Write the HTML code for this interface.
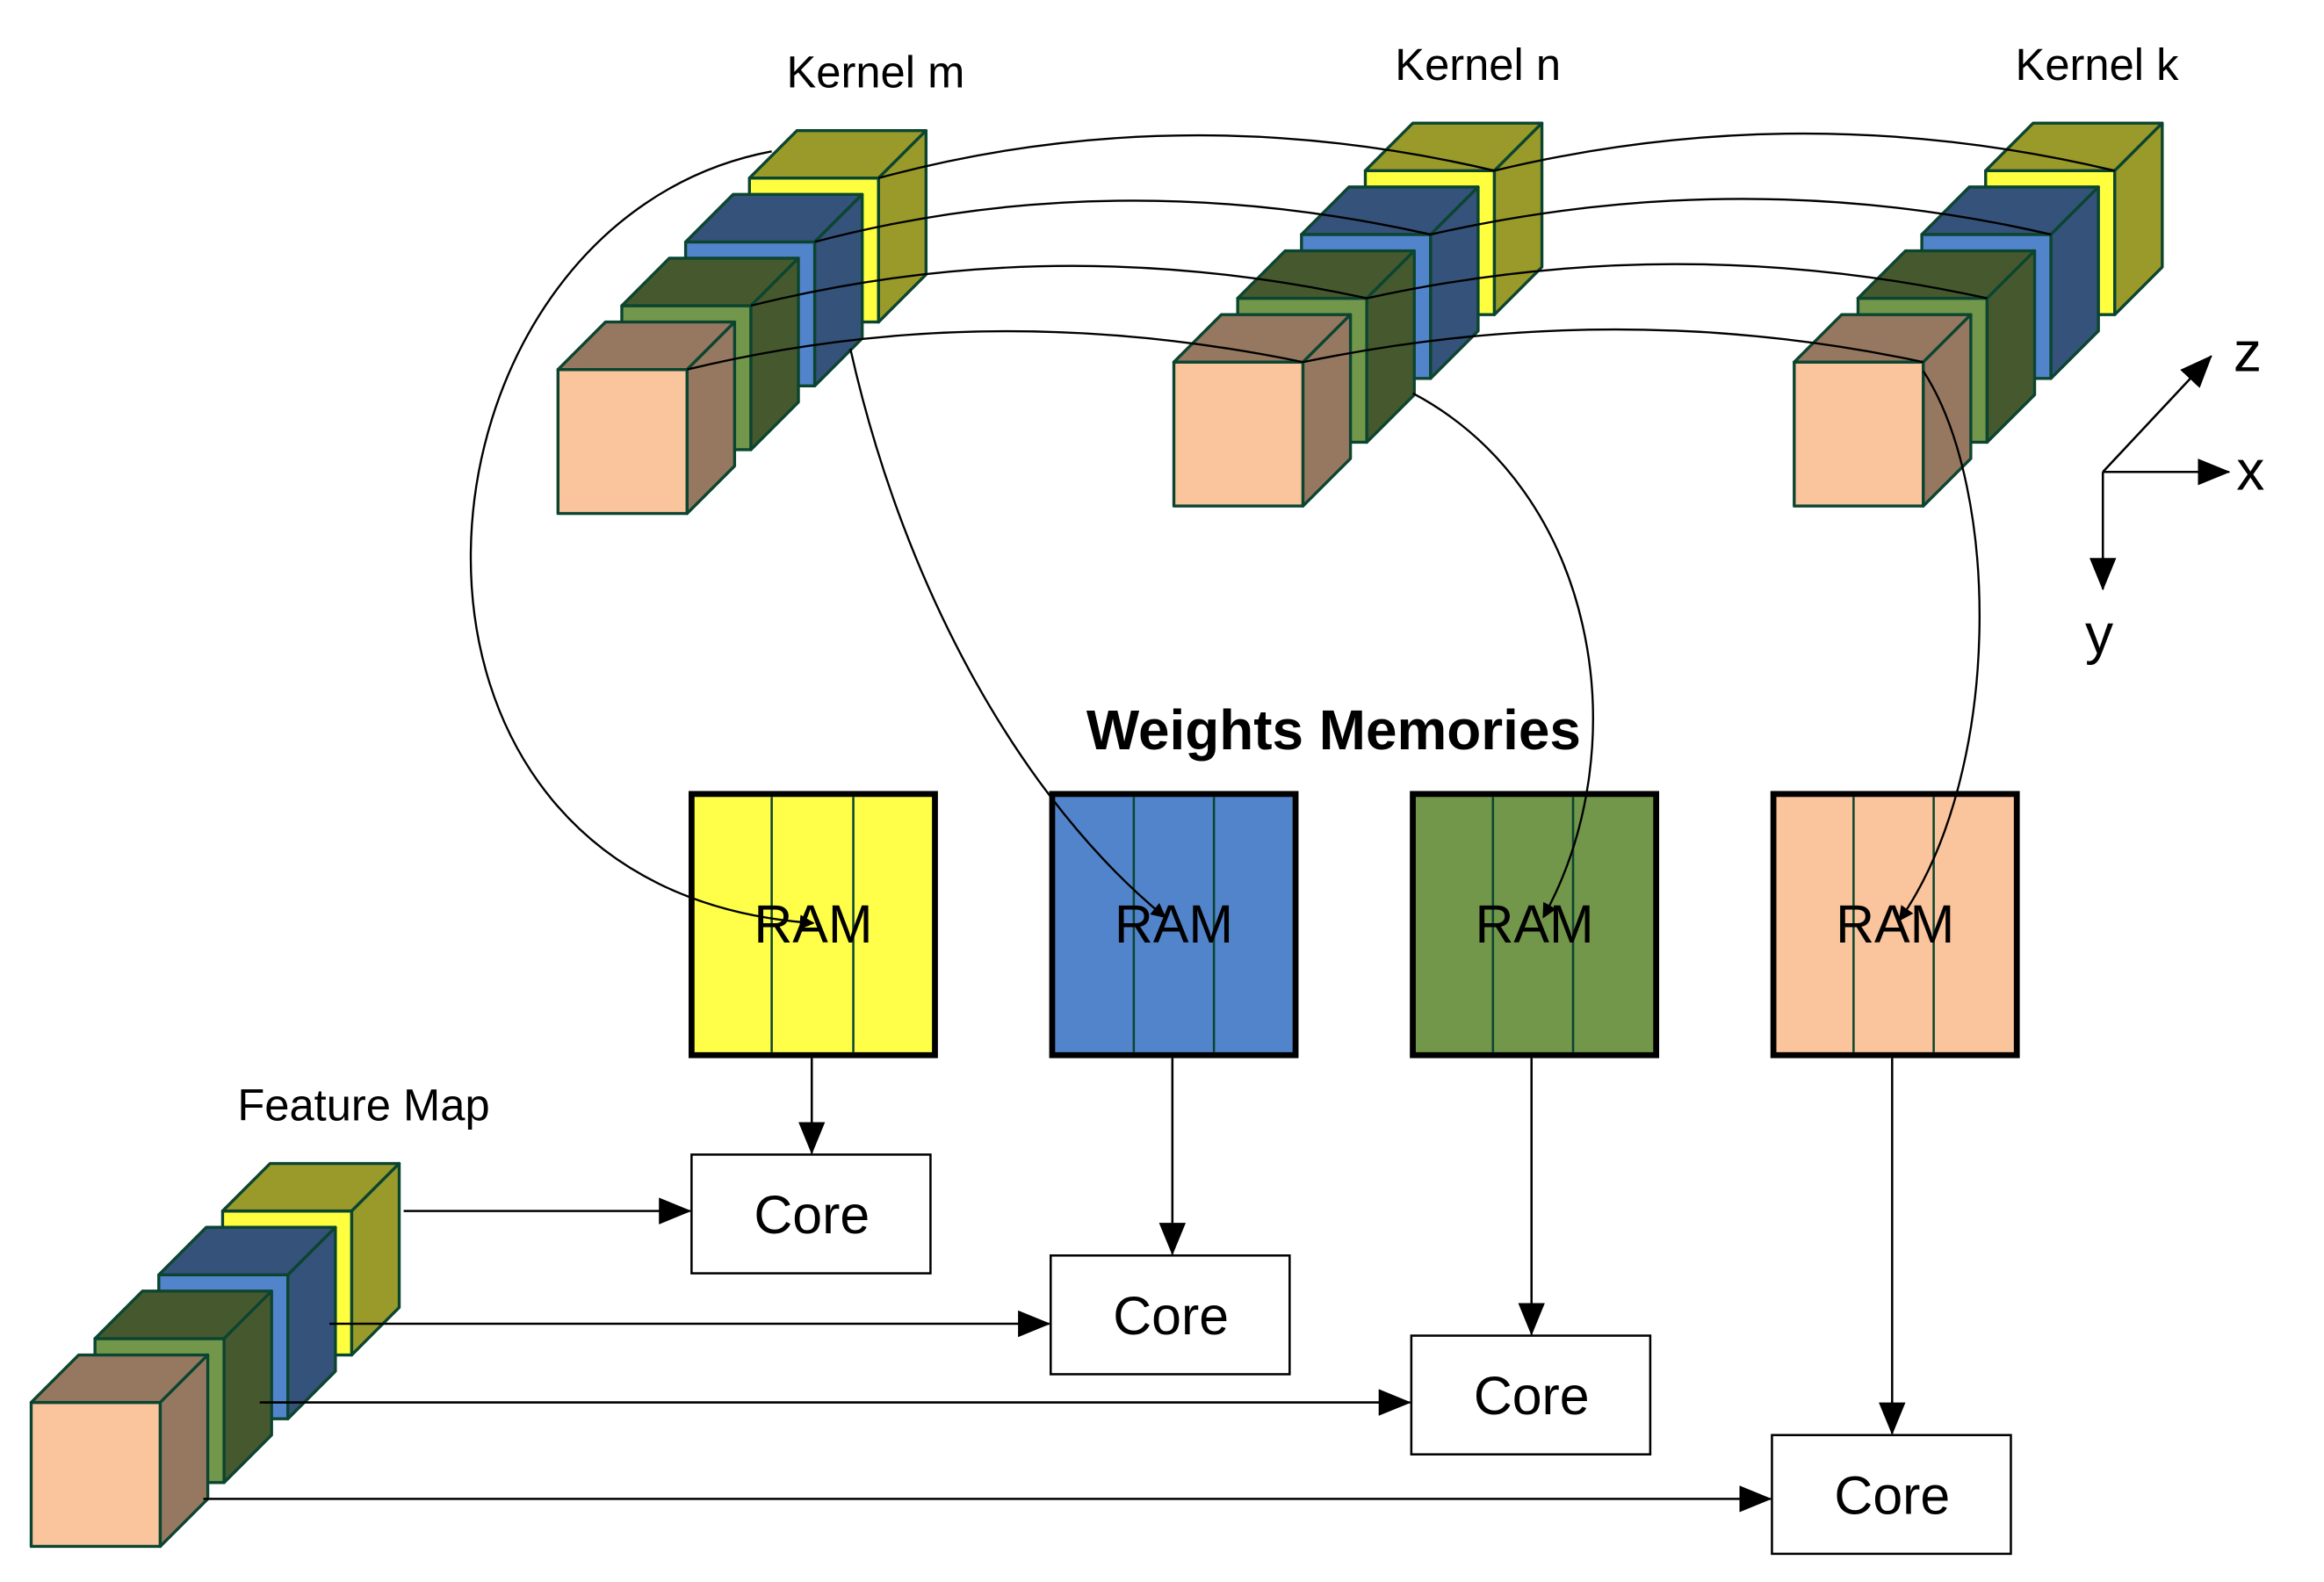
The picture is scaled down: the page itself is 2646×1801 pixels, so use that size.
<!DOCTYPE html>
<html><head><meta charset="utf-8"><style>html,body{margin:0;padding:0;background:#fff}svg{display:block}</style></head>
<body>
<svg width="2646" height="1801" viewBox="0 0 1566 1066" preserveAspectRatio="none" xmlns="http://www.w3.org/2000/svg" font-family="Liberation Sans, Arial, sans-serif">
<defs>
<marker id="ah" markerWidth="10" markerHeight="10" refX="9" refY="5" orient="auto" markerUnits="userSpaceOnUse" viewBox="0 0 10 10"><path d="M0,0 L10,5 L0,10 z" fill="#000"/></marker>
<marker id="ab" markerWidth="22" markerHeight="18" refX="21" refY="9" orient="auto" markerUnits="userSpaceOnUse"><path d="M0,0 L22,9 L0,18 z" fill="#000"/></marker>
<g id="cy" stroke="#0B4530" stroke-width="2" stroke-linejoin="round"><rect x="0" y="0" width="87" height="97" fill="#FFFF40"/><polygon points="0,0 87,0 119,-32 32,-32" fill="#999A2A"/><polygon points="87,0 119,-32 119,65 87,97" fill="#999A2A"/></g>
<g id="cb" stroke="#0B4530" stroke-width="2" stroke-linejoin="round"><rect x="0" y="0" width="87" height="97" fill="#5284CC"/><polygon points="0,0 87,0 119,-32 32,-32" fill="#34527A"/><polygon points="87,0 119,-32 119,65 87,97" fill="#34527A"/></g>
<g id="cg" stroke="#0B4530" stroke-width="2" stroke-linejoin="round"><rect x="0" y="0" width="87" height="97" fill="#72964A"/><polygon points="0,0 87,0 119,-32 32,-32" fill="#46592E"/><polygon points="87,0 119,-32 119,65 87,97" fill="#46592E"/></g>
<g id="cp" stroke="#0B4530" stroke-width="2" stroke-linejoin="round"><rect x="0" y="0" width="87" height="97" fill="#FAC49C"/><polygon points="0,0 87,0 119,-32 32,-32" fill="#967860"/><polygon points="87,0 119,-32 119,65 87,97" fill="#967860"/></g>
</defs>

<use href="#cy" x="505" y="120"/><use href="#cb" x="462" y="163"/><use href="#cg" x="419" y="206"/><use href="#cp" x="376" y="249"/>
<use href="#cy" x="920" y="115"/><use href="#cb" x="877" y="158"/><use href="#cg" x="834" y="201"/><use href="#cp" x="791" y="244"/>
<use href="#cy" x="1338" y="115"/><use href="#cb" x="1295" y="158"/><use href="#cg" x="1252" y="201"/><use href="#cp" x="1209" y="244"/>
<use href="#cy" x="150" y="816"/><use href="#cb" x="107" y="859"/><use href="#cg" x="64" y="902"/><use href="#cp" x="21" y="945"/>

<text x="530" y="59" font-size="30">Kernel m</text>
<text x="940" y="54" font-size="30">Kernel n</text>
<text x="1358" y="54" font-size="30">Kernel k</text>
<text x="732" y="505" font-size="37.8" font-weight="bold">Weights Memories</text>
<text x="160" y="755" font-size="30">Feature Map</text>

<g stroke="#000" stroke-width="4">
<rect x="466" y="535" width="164" height="176" fill="#FFFF4A"/>
<rect x="709" y="535" width="164" height="176" fill="#5284CC"/>
<rect x="952" y="535" width="164" height="176" fill="#72964A"/>
<rect x="1195" y="535" width="164" height="176" fill="#FAC49C"/>
</g>
<g stroke="#0B4530" stroke-width="1.5">
<line x1="520" y1="537" x2="520" y2="709"/><line x1="575" y1="537" x2="575" y2="709"/>
<line x1="764" y1="537" x2="764" y2="709"/><line x1="818" y1="537" x2="818" y2="709"/>
<line x1="1006" y1="537" x2="1006" y2="709"/><line x1="1060" y1="537" x2="1060" y2="709"/>
<line x1="1249" y1="537" x2="1249" y2="709"/><line x1="1303" y1="537" x2="1303" y2="709"/>
</g>
<g font-size="36" text-anchor="middle">
<text x="548" y="635">RAM</text><text x="791" y="635">RAM</text><text x="1034" y="635">RAM</text><text x="1277" y="635">RAM</text>
</g>

<g fill="none" stroke="#000" stroke-width="1.4">
<path d="M592,120 Q795,65 1007,115 Q1215,65 1425,115"/>
<path d="M549,163 Q750,110 964,158 Q1175,110 1382,158"/>
<path d="M506,206 Q710,155 921,201 Q1130,155 1339,201"/>
<path d="M463,249 Q665,200 878,244 Q1090,200 1296,244"/>
<path d="M520,102 C265,150 225,600 548,622" marker-end="url(#ah)"/>
<path d="M573,235 C610,400 690,540 785,618" marker-end="url(#ah)"/>
<path d="M952,265 C1075,330 1105,500 1040,618" marker-end="url(#ah)"/>
<path d="M1296,250 C1348,330 1350,520 1280,620" marker-end="url(#ah)"/>
</g>

<g fill="#fff" stroke="#000" stroke-width="1.5">
<rect x="466" y="778" width="161" height="80"/>
<rect x="708" y="846" width="161" height="80"/>
<rect x="951" y="900" width="161" height="80"/>
<rect x="1194" y="967" width="161" height="80"/>
</g>
<g font-size="36" text-anchor="middle">
<text x="547" y="831">Core</text><text x="789" y="899">Core</text><text x="1032" y="953">Core</text><text x="1275" y="1020">Core</text>
</g>

<g stroke="#000" stroke-width="1.5" fill="none">
<line x1="547" y1="713" x2="547" y2="777" marker-end="url(#ab)"/>
<line x1="790" y1="713" x2="790" y2="845" marker-end="url(#ab)"/>
<line x1="1032" y1="713" x2="1032" y2="899" marker-end="url(#ab)"/>
<line x1="1275" y1="713" x2="1275" y2="966" marker-end="url(#ab)"/>
<line x1="272" y1="816" x2="465" y2="816" marker-end="url(#ab)"/>
<line x1="222" y1="892" x2="707" y2="892" marker-end="url(#ab)"/>
<line x1="175" y1="945" x2="950" y2="945" marker-end="url(#ab)"/>
<line x1="137" y1="1010" x2="1193" y2="1010" marker-end="url(#ab)"/>
<line x1="1417" y1="318" x2="1490" y2="240" marker-end="url(#ab)"/>
<line x1="1417" y1="318" x2="1502" y2="318" marker-end="url(#ab)"/>
<line x1="1417" y1="318" x2="1417" y2="397" marker-end="url(#ab)"/>
</g>
<g font-size="38">
<text x="1505" y="250">z</text><text x="1507" y="330">x</text><text x="1405" y="440">y</text>
</g>
</svg>
</body></html>
